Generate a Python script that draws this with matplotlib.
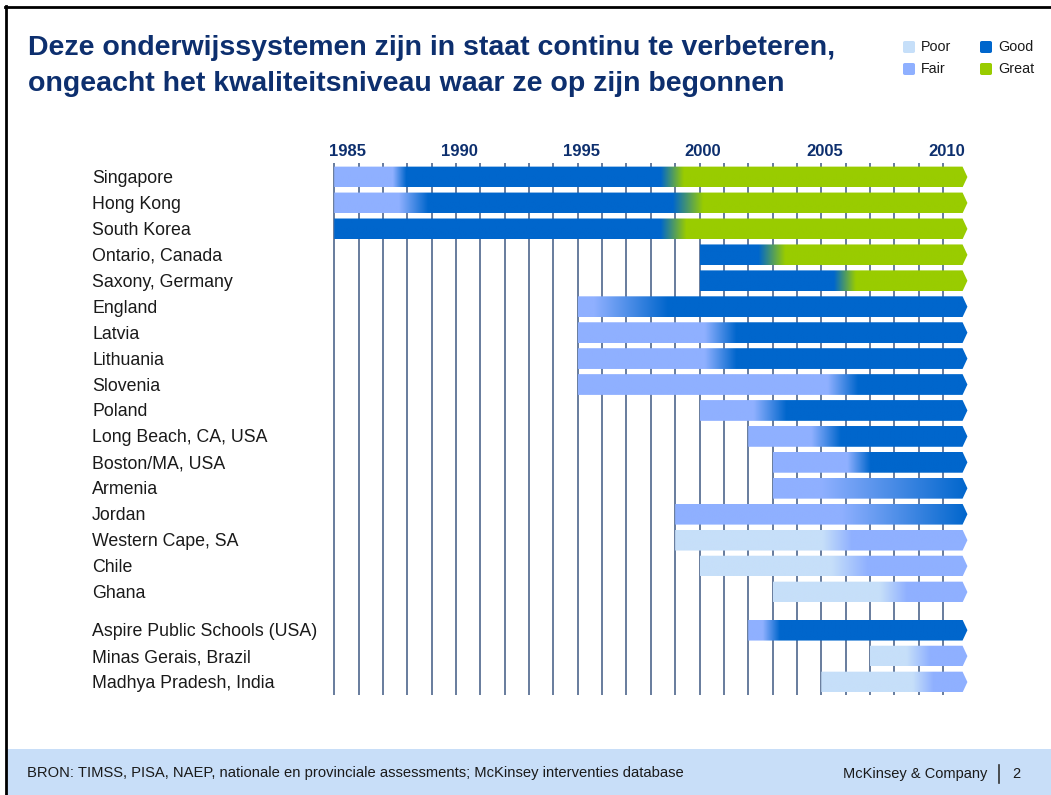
import matplotlib
matplotlib.use("Agg")
import matplotlib.pyplot as plt
import matplotlib.transforms as mtrans
from matplotlib.patches import Polygon, Rectangle, FancyBboxPatch
from matplotlib.lines import Line2D
import numpy as np

plt.rcParams["font.family"] = ["Liberation Sans", "DejaVu Sans"]

""" data read off the slide """
systems = ["Singapore", "Hong Kong", "South Korea", "Ontario, Canada",
           "Saxony, Germany", "England", "Latvia", "Lithuania", "Slovenia",
           "Poland", "Long Beach, CA, USA", "Boston/MA, USA", "Armenia",
           "Jordan", "Western Cape, SA", "Chile", "Ghana",
           "Aspire Public Schools (USA)", "Minas Gerais, Brazil",
           "Madhya Pradesh, India"]
start_year = [1985, 1985, 1985, 2000, 2000, 1995, 1995, 1995, 1995, 2000,
              2002, 2003, 2003, 1999, 1999, 2000, 2003, 2002, 2007, 2005]
end_year = 2011
stages = [["Fair", "Good", "Great"], ["Fair", "Good", "Great"],
          ["Good", "Great"], ["Good", "Great"], ["Good", "Great"],
          ["Fair", "Good"], ["Fair", "Good"], ["Fair", "Good"],
          ["Fair", "Good"], ["Fair", "Good"], ["Fair", "Good"],
          ["Fair", "Good"], ["Fair", "Good"], ["Fair", "Good"],
          ["Poor", "Fair"], ["Poor", "Fair"], ["Poor", "Fair"],
          ["Fair", "Good"], ["Poor", "Fair"], ["Poor", "Fair"]]
# each transition: (year blend starts, year blend ends)
transitions = [[(1987.4, 1987.95), (1998.4, 1999.35)],
               [(1987.65, 1988.85), (1998.9, 2000.15)],
               [(1998.4, 1999.45)],
               [(2002.4, 2003.5)],
               [(2005.5, 2006.4)],
               [(1995.65, 1998.7)],
               [(2000.2, 2001.5)],
               [(2000.2, 2001.5)],
               [(2005.25, 2006.5)],
               [(2002.2, 2003.55)],
               [(2004.6, 2005.8)],
               [(2006.05, 2007.0)],
               [(2004.95, 2011.0)],
               [(2005.8, 2011.0)],
               [(2005.05, 2006.25)],
               [(2005.4, 2006.9)],
               [(2007.4, 2008.5)],
               [(2002.6, 2003.3)],
               [(2008.5, 2009.45)],
               [(2008.75, 2009.6)]]
grid_years = list(range(1985, 2011))
label_years = [1985, 1990, 1995, 2000, 2005, 2010]
legend_order = ["Poor", "Good", "Fair", "Great"]

""" styling """
stage_colors = {"Poor": "#C6DFF9", "Fair": "#8FB0FF",
                "Good": "#0066CC", "Great": "#99CC00"}
navy = "#0D2F6E"
W, H = 1051, 795

fig = plt.figure(figsize=(W / 100, H / 100), dpi=100)

""" axes placed so that 1985 -> 333px and 2010 -> 943px """
px_per_year = 24.4
row_px = 25.94
ax_left, ax_top, ax_bottom = 333, 163, 695
xmax = 1985 + (980 - ax_left) / px_per_year
ax = fig.add_axes([ax_left / W, 1 - ax_bottom / H,
                   (980 - ax_left) / W, (ax_bottom - ax_top) / H])

ypos = np.arange(len(systems), dtype=float)
ypos[17:] += 0.47  # extra gap before Aspire
y_top = (ax_top - 177) / row_px
y_bot = (ax_bottom - 177) / row_px

""" gridlines """
for yr in grid_years:
    ax.axvline(yr, color="#3F5882", lw=1.1, zorder=1)

""" bars with gradient fill """
bar_h = 0.8
tip = 0.2
for i, name in enumerate(systems):
    x0, y = start_year[i], ypos[i]
    knots, cols = [x0], [stage_colors[stages[i][0]]]
    for k, (a, b) in enumerate(transitions[i]):
        knots += [a, b]
        cols += [stage_colors[stages[i][k]], stage_colors[stages[i][k + 1]]]
    knots.append(end_year)
    cols.append(stage_colors[stages[i][-1]])
    rgb = np.array([matplotlib.colors.to_rgb(c) for c in cols])
    xs = np.linspace(x0, end_year, 600)
    img = np.stack([np.interp(xs, knots, rgb[:, c]) for c in range(3)], axis=-1)
    img = img[np.newaxis, :, :]
    poly = Polygon([(x0, y - bar_h / 2), (end_year - tip, y - bar_h / 2),
                    (end_year, y), (end_year - tip, y + bar_h / 2),
                    (x0, y + bar_h / 2)], closed=True, facecolor="none",
                   edgecolor="none", transform=ax.transData)
    ax.add_patch(poly)
    im = ax.imshow(img, extent=(x0, end_year, y + bar_h / 2, y - bar_h / 2),
                   aspect="auto", interpolation="bilinear", zorder=2)
    im.set_clip_path(poly)

ax.set_xlim(1985 - 0.05, xmax)
ax.set_ylim(y_bot, y_top)
ax.set_xticks(label_years)
ax.set_xticklabels([str(y) for y in label_years], fontsize=12,
                   fontweight="bold", color=navy)
ax.xaxis.tick_top()
ax.tick_params(axis="x", length=0, pad=3)
for k, lab in enumerate(ax.get_xticklabels()):
    dx = 3.5 if k > 0 else -5.5
    if k == 0:
        lab.set_horizontalalignment("left")
    lab.set_transform(lab.get_transform()
                      + mtrans.ScaledTranslation(dx / 100, 0, fig.dpi_scale_trans))
ax.set_yticks([])
for s in ax.spines.values():
    s.set_visible(False)

""" row labels """
trans = (mtrans.blended_transform_factory(fig.transFigure, ax.transData)
         + mtrans.ScaledTranslation(0, -6 / 100, fig.dpi_scale_trans))
for i, name in enumerate(systems):
    ax.text(92 / W, ypos[i], name, transform=trans, ha="left", va="baseline",
            fontsize=12.8, color="#1A1A1A", clip_on=False)

""" title """
fig.text(28 / W, 1 - 48 / H, "Deze onderwijssystemen zijn in staat continu te verbeteren,",
         fontsize=20.5, fontweight="bold", color=navy, va="center", ha="left")
fig.text(28 / W, 1 - 84 / H, "ongeacht het kwaliteitsniveau waar ze op zijn begonnen",
         fontsize=20.5, fontweight="bold", color=navy, va="center", ha="left")

""" legend """
leg_x = [903, 980]
leg_y = [47, 69]
for k, stage in enumerate(legend_order):
    lx, ly = leg_x[k % 2], leg_y[k // 2]
    fig.patches.append(FancyBboxPatch(((lx) / W, 1 - (ly + 6) / H), 12 / W, 12 / H,
                                      boxstyle="round,pad=0,rounding_size=0.002",
                                      facecolor=stage_colors[stage], edgecolor="none",
                                      transform=fig.transFigure))
    fig.text((lx + 18) / W, 1 - ly / H, stage, fontsize=10.3, color="#1A1A1A",
             va="center", ha="left")

""" footer band """
fig.patches.append(Rectangle((7 / W, 0), 1 - 7 / W, 46 / H, facecolor="#C8DEF8",
                             edgecolor="none", transform=fig.transFigure))
fig.text(27 / W, 1 - 773 / H,
         "BRON: TIMSS, PISA, NAEP, nationale en provinciale assessments; McKinsey interventies database",
         fontsize=10.6, color="#1A1A1A", va="center", ha="left")
fig.text(987 / W, 1 - 774 / H, "McKinsey & Company", fontsize=10.5,
         color="#1A1A1A", va="center", ha="right")
fig.lines.append(Line2D([999 / W, 999 / W], [1 - 765 / H, 1 - 783 / H],
                        color="#333333", lw=1.2, transform=fig.transFigure))
fig.text(1016 / W, 1 - 774 / H, "2", fontsize=10.5, color="#1A1A1A",
         va="center", ha="center")

""" slide frame """
fig.lines.append(Line2D([6 / W, 6 / W], [0, 1 - 6 / H], color="black", lw=2,
                        transform=fig.transFigure))
fig.lines.append(Line2D([5 / W, 1], [1 - 7 / H, 1 - 7 / H], color="black", lw=2,
                        transform=fig.transFigure))

fig.savefig("out.png", dpi=100)
